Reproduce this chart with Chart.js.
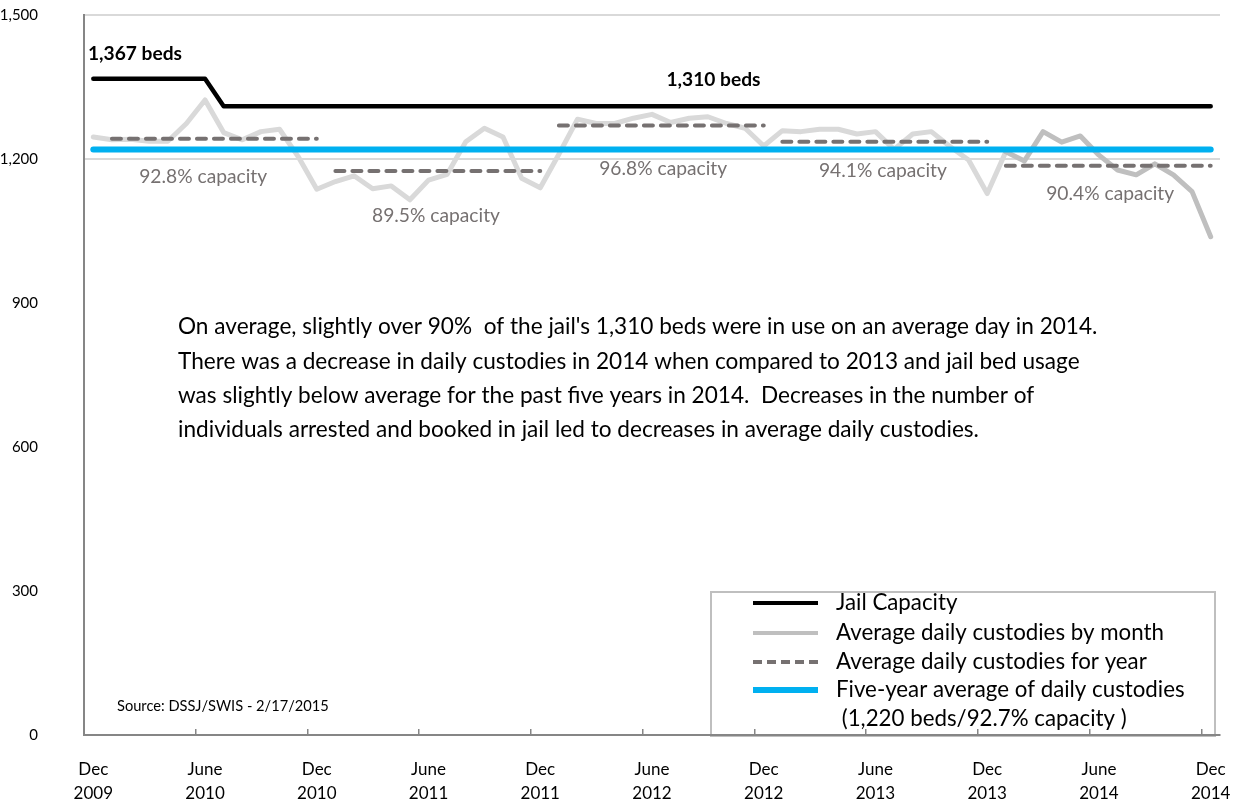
<!DOCTYPE html>
<html>
<head>
<meta charset="utf-8">
<script src="https://cdn.jsdelivr.net/npm/chart.js@4.4.1/dist/chart.umd.min.js"></script>
<style>
  html, body { margin: 0; padding: 0; background: #fff; }
  #wrap { width: 1241px; height: 809px; }
</style>
</head>
<body>
<div id="wrap"><canvas id="custodyChart" width="1241" height="809"></canvas></div>
<script>
// Months from Dec 2009 to Dec 2014 (61 points)
const monthNames = ["Jan", "Feb", "Mar", "Apr", "May", "June", "July", "Aug", "Sep", "Oct", "Nov", "Dec"];
const months = ["Dec 2009"];
for (let y = 2010; y <= 2014; y++) {
    monthNames.forEach(m => months.push(m + " " + y));
}

// Average daily custodies by month
const monthlyCustodies = [
    1246, 1240, 1241, 1237, 1237, 1274, 1323, 1255, 1240, 1257, 1262, 1205, 1137,
    1153, 1165, 1138, 1144, 1115, 1156, 1168, 1236, 1264, 1246, 1160, 1140,
    1210, 1283, 1274, 1274, 1285, 1293, 1276, 1285, 1288, 1274, 1264, 1227,
    1259, 1257, 1262, 1262, 1252, 1257, 1220, 1252, 1257, 1226, 1198, 1128,
    1215, 1196, 1257, 1235, 1248, 1208, 1177, 1167, 1190, 1167, 1132, 1038
];
const latestYearStart = 49; // Jan 2014, drawn in a darker grey

// Jail capacity: 1,367 beds until June 2010, then 1,310 beds
const capacityBeds = [1367, 1310];
const capacityChangeIndex = 7;

// Average daily custodies for each year (2010..2014) and share of capacity
const yearlyAverage = [1242, 1175, 1270, 1236, 1186];
const yearlyCapacityPct = ["92.8%", "89.5%", "96.8%", "94.1%", "90.4%"];

const fiveYearAverage = 1220;

const yTicks = [0, 300, 600, 900, 1200, 1500];

const noteLines = [
    "On average, slightly over 90%  of the jail's 1,310 beds were in use on an average day in 2014.",
    "There was a decrease in daily custodies in 2014 when compared to 2013 and jail bed usage",
    "was slightly below average for the past five years in 2014.  Decreases in the number of",
    "individuals arrested and booked in jail led to decreases in average daily custodies."
];

const FONT = "Lato, 'Open Sans', sans-serif";
const GREY_TEXT = "#767171";
const C_CAP = "#000000", C_MONTH = "#d9d9d9", C_MONTH14 = "#bfbfbf", C_YEAR = "#767171", C_AVG = "#00b0f0";

const capacityData = months.map((_, i) => i < capacityChangeIndex ? capacityBeds[0] : capacityBeds[1]);
const monthlyEarly = monthlyCustodies.map((v, i) => i <= latestYearStart ? v : null);
const monthlyLate = monthlyCustodies.map((v, i) => i >= latestYearStart ? v : null);
const avgData = months.map(() => fiveYearAverage);

const yearDatasets = yearlyAverage.map((avg, k) => ({
    label: "Average daily custodies for year",
    data: months.map((_, i) => (i >= 1 + 12 * k && i <= 12 + 12 * k) ? avg : null),
    borderColor: C_YEAR,
    borderWidth: 4,
    borderDash: [9, 8],
    borderCapStyle: "round",
    spanGaps: false,
    order: 2
}));

function fitSize(ctx, text, width, weight) {
    ctx.font = weight + " 20px " + FONT;
    return 20 * width / ctx.measureText(text).width;
}

const notesPlugin = {
    id: "notes",
    beforeDraw(chart) {
        // legend box
        const ctx = chart.ctx;
        const area = chart.chartArea;
        const bx = 711, by = 592, bw = area.right - 5 - bx, bh = area.bottom + 1 - by;
        ctx.save();
        ctx.fillStyle = "#fff";
        ctx.fillRect(bx, by, bw, bh);
        ctx.strokeStyle = "#bfbfbf";
        ctx.lineWidth = 2;
        ctx.strokeRect(bx, by, bw, bh);

        const entries = [
            { text: "Jail Capacity", color: C_CAP, width: 4, dash: [] },
            { text: "Average daily custodies by month", color: C_MONTH14, width: 4, dash: [] },
            { text: "Average daily custodies for year", color: C_YEAR, width: 4, dash: [9, 5] },
            { text: "Five-year average of daily custodies", color: C_AVG, width: 6, dash: [] }
        ];
        const size = fitSize(ctx, entries[1].text, 328, "normal");
        const rowY = [603, 633, 662, 690];
        entries.forEach((e, i) => {
            ctx.beginPath();
            ctx.setLineDash(e.dash);
            ctx.strokeStyle = e.color;
            ctx.lineWidth = e.width;
            ctx.moveTo(753, rowY[i]);
            ctx.lineTo(818, rowY[i]);
            ctx.stroke();
            ctx.setLineDash([]);
            ctx.fillStyle = "#000";
            ctx.font = "normal " + size + "px " + FONT;
            ctx.textAlign = "left";
            ctx.textBaseline = "middle";
            ctx.fillText(e.text, 836, rowY[i]);
        });
        ctx.fillText(" (1,220 beds/92.7% capacity )", 836, 719);
        ctx.restore();
    },
    afterDraw(chart) {
        const ctx = chart.ctx;
        const x = chart.scales.x;
        ctx.save();
        ctx.textBaseline = "middle";

        // bed labels
        const bold = fitSize(ctx, "1,310 beds", 94, "bold");
        ctx.font = "bold " + bold + "px " + FONT;
        ctx.fillStyle = "#000";
        ctx.textAlign = "left";
        ctx.fillText("1,367 beds", 88, 54);
        ctx.textAlign = "center";
        ctx.fillText("1,310 beds", x.getPixelForValue(33.3), 80);

        // yearly capacity labels
        const labelIdx = [5.9, 18.4, 30.6, 42.4, 54.6];
        const labelY = [177, 216, 169, 171, 194];
        const cs = fitSize(ctx, "92.8% capacity", 128, "normal");
        ctx.font = "normal " + cs + "px " + FONT;
        ctx.fillStyle = GREY_TEXT;
        yearlyCapacityPct.forEach((p, k) => {
            ctx.fillText(p + " capacity", x.getPixelForValue(labelIdx[k]), labelY[k]);
        });

        // explanatory note
        const ns = fitSize(ctx, noteLines[0], 920, "normal");
        ctx.font = "normal " + ns + "px " + FONT;
        ctx.fillStyle = "#000";
        ctx.textAlign = "left";
        const noteY = [327, 362, 396, 430];
        noteLines.forEach((t, i) => ctx.fillText(t, 178, noteY[i]));

        // source
        const ss = fitSize(ctx, "Source: DSSJ/SWIS - 2/17/2015", 212, "normal");
        ctx.font = "normal " + ss + "px " + FONT;
        ctx.fillText("Source: DSSJ/SWIS - 2/17/2015", 117, 706);
        ctx.restore();
    }
};

new Chart(document.getElementById("custodyChart"), {
    type: "line",
    data: {
        labels: months,
        datasets: [
            {
                label: "Jail Capacity",
                data: capacityData,
                borderColor: C_CAP,
                borderWidth: 4.5,
                order: 0
            },
            {
                label: "Five-year average of daily custodies",
                data: avgData,
                borderColor: C_AVG,
                borderWidth: 6,
                order: 1
            },
            ...yearDatasets,
            {
                label: "Average daily custodies by month",
                data: monthlyLate,
                borderColor: C_MONTH14,
                borderWidth: 5,
                spanGaps: false,
                order: 3
            },
            {
                label: "Average daily custodies by month (earlier)",
                data: monthlyEarly,
                borderColor: C_MONTH,
                borderWidth: 5,
                spanGaps: false,
                order: 4
            }
        ]
    },
    options: {
        responsive: false,
        animation: false,
        layout: { padding: { top: 15, right: 21, left: 0, bottom: 0 } },
        elements: {
            point: { radius: 0, hoverRadius: 0 },
            line: { tension: 0, borderJoinStyle: "round", borderCapStyle: "round", fill: false }
        },
        plugins: {
            legend: { display: false },
            tooltip: { enabled: false },
            title: { display: false }
        },
        scales: {
            x: {
                offset: true,
                afterFit: s => { s.height = 74; s.paddingLeft = 0; s.paddingRight = 0; },
                border: { color: "#868686", width: 2 },
                grid: {
                    offset: true,
                    drawOnChartArea: false,
                    drawTicks: true,
                    tickLength: -6,
                    lineWidth: 1.5,
                    color: c => (c.index % 6 === 0 ? "#868686" : "rgba(0,0,0,0)")
                },
                ticks: {
                    autoSkip: false,
                    maxRotation: 0,
                    padding: 28,
                    color: "#000",
                    font: { family: FONT, size: 17, lineHeight: 1.45 },
                    callback: (v, i) => (i % 6 === 0 ? months[i].split(" ") : "")
                }
            },
            y: {
                min: 0,
                max: 1500,
                afterFit: s => { s.width = 84; s.paddingTop = 0; s.paddingBottom = 0; },
                afterBuildTicks: s => { s.ticks = yTicks.map(v => ({ value: v })); },
                border: { color: "#868686", width: 2 },
                grid: {
                    drawTicks: false,
                    lineWidth: 2,
                    color: c => (c.tick && (c.tick.value === 1200 || c.tick.value === 1500) ? "#d9d9d9" : "rgba(0,0,0,0)")
                },
                ticks: {
                    padding: 46,
                    color: "#000",
                    font: { family: FONT, size: 15 },
                    callback: v => v.toLocaleString("en-US")
                }
            }
        }
    },
    plugins: [notesPlugin]
});
</script>
</body>
</html>
